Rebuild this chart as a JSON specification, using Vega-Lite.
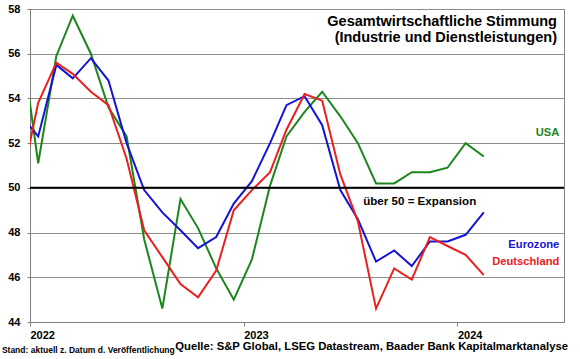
{
  "$schema": "https://vega.github.io/schema/vega-lite/v6.json",
  "width": 534,
  "height": 313,
  "autosize": "none",
  "padding": {"left": 30, "top": 9, "right": 16, "bottom": 37},
  "background": "white",
  "config": {
    "font": "Liberation Sans",
    "view": {"stroke": "#7f7f7f", "strokeWidth": 1}
  },
  "datasets": {
    "one": [{}],
    "pmi": [
      {"d": "2021-12-15", "s": "USA", "v": 57.0},
      {"d": "2022-01-15", "s": "USA", "v": 51.1},
      {"d": "2022-02-15", "s": "USA", "v": 55.9},
      {"d": "2022-03-15", "s": "USA", "v": 57.7},
      {"d": "2022-04-15", "s": "USA", "v": 56.0},
      {"d": "2022-05-15", "s": "USA", "v": 53.6},
      {"d": "2022-06-15", "s": "USA", "v": 52.3},
      {"d": "2022-07-15", "s": "USA", "v": 47.7},
      {"d": "2022-08-15", "s": "USA", "v": 44.6},
      {"d": "2022-09-15", "s": "USA", "v": 49.5},
      {"d": "2022-10-15", "s": "USA", "v": 48.2},
      {"d": "2022-11-15", "s": "USA", "v": 46.4},
      {"d": "2022-12-15", "s": "USA", "v": 45.0},
      {"d": "2023-01-15", "s": "USA", "v": 46.8},
      {"d": "2023-02-15", "s": "USA", "v": 50.1},
      {"d": "2023-03-15", "s": "USA", "v": 52.3},
      {"d": "2023-04-15", "s": "USA", "v": 53.4},
      {"d": "2023-05-15", "s": "USA", "v": 54.3},
      {"d": "2023-06-15", "s": "USA", "v": 53.2},
      {"d": "2023-07-15", "s": "USA", "v": 52.0},
      {"d": "2023-08-15", "s": "USA", "v": 50.2},
      {"d": "2023-09-15", "s": "USA", "v": 50.2},
      {"d": "2023-10-15", "s": "USA", "v": 50.7},
      {"d": "2023-11-15", "s": "USA", "v": 50.7},
      {"d": "2023-12-15", "s": "USA", "v": 50.9},
      {"d": "2024-01-15", "s": "USA", "v": 52.0},
      {"d": "2024-02-15", "s": "USA", "v": 51.4},
      {"d": "2021-12-15", "s": "Eurozone", "v": 53.3},
      {"d": "2022-01-15", "s": "Eurozone", "v": 52.3},
      {"d": "2022-02-15", "s": "Eurozone", "v": 55.5},
      {"d": "2022-03-15", "s": "Eurozone", "v": 54.9},
      {"d": "2022-04-15", "s": "Eurozone", "v": 55.8},
      {"d": "2022-05-15", "s": "Eurozone", "v": 54.8},
      {"d": "2022-06-15", "s": "Eurozone", "v": 52.0},
      {"d": "2022-07-15", "s": "Eurozone", "v": 49.9},
      {"d": "2022-08-15", "s": "Eurozone", "v": 48.9},
      {"d": "2022-09-15", "s": "Eurozone", "v": 48.1},
      {"d": "2022-10-15", "s": "Eurozone", "v": 47.3},
      {"d": "2022-11-15", "s": "Eurozone", "v": 47.8},
      {"d": "2022-12-15", "s": "Eurozone", "v": 49.3},
      {"d": "2023-01-15", "s": "Eurozone", "v": 50.3},
      {"d": "2023-02-15", "s": "Eurozone", "v": 52.0},
      {"d": "2023-03-15", "s": "Eurozone", "v": 53.7},
      {"d": "2023-04-15", "s": "Eurozone", "v": 54.1},
      {"d": "2023-05-15", "s": "Eurozone", "v": 52.8},
      {"d": "2023-06-15", "s": "Eurozone", "v": 49.9},
      {"d": "2023-07-15", "s": "Eurozone", "v": 48.6},
      {"d": "2023-08-15", "s": "Eurozone", "v": 46.7},
      {"d": "2023-09-15", "s": "Eurozone", "v": 47.2},
      {"d": "2023-10-15", "s": "Eurozone", "v": 46.5},
      {"d": "2023-11-15", "s": "Eurozone", "v": 47.6},
      {"d": "2023-12-15", "s": "Eurozone", "v": 47.6},
      {"d": "2024-01-15", "s": "Eurozone", "v": 47.9},
      {"d": "2024-02-15", "s": "Eurozone", "v": 48.9},
      {"d": "2021-12-15", "s": "Deutschland", "v": 49.9},
      {"d": "2022-01-15", "s": "Deutschland", "v": 53.8},
      {"d": "2022-02-15", "s": "Deutschland", "v": 55.6},
      {"d": "2022-03-15", "s": "Deutschland", "v": 55.1},
      {"d": "2022-04-15", "s": "Deutschland", "v": 54.3},
      {"d": "2022-05-15", "s": "Deutschland", "v": 53.7},
      {"d": "2022-06-15", "s": "Deutschland", "v": 51.3},
      {"d": "2022-07-15", "s": "Deutschland", "v": 48.1},
      {"d": "2022-08-15", "s": "Deutschland", "v": 46.9},
      {"d": "2022-09-15", "s": "Deutschland", "v": 45.7},
      {"d": "2022-10-15", "s": "Deutschland", "v": 45.1},
      {"d": "2022-11-15", "s": "Deutschland", "v": 46.3},
      {"d": "2022-12-15", "s": "Deutschland", "v": 49.0},
      {"d": "2023-01-15", "s": "Deutschland", "v": 49.9},
      {"d": "2023-02-15", "s": "Deutschland", "v": 50.7},
      {"d": "2023-03-15", "s": "Deutschland", "v": 52.6},
      {"d": "2023-04-15", "s": "Deutschland", "v": 54.2},
      {"d": "2023-05-15", "s": "Deutschland", "v": 53.9},
      {"d": "2023-06-15", "s": "Deutschland", "v": 50.6},
      {"d": "2023-07-15", "s": "Deutschland", "v": 48.5},
      {"d": "2023-08-15", "s": "Deutschland", "v": 44.6},
      {"d": "2023-09-15", "s": "Deutschland", "v": 46.4},
      {"d": "2023-10-15", "s": "Deutschland", "v": 45.9},
      {"d": "2023-11-15", "s": "Deutschland", "v": 47.8},
      {"d": "2023-12-15", "s": "Deutschland", "v": 47.4},
      {"d": "2024-01-15", "s": "Deutschland", "v": 47.0},
      {"d": "2024-02-15", "s": "Deutschland", "v": 46.1}
    ]
  },
  "layer": [
    {
      "data": {"name": "pmi"},
      "mark": {"type": "line", "clip": true, "strokeWidth": 2},
      "encoding": {
        "x": {
          "field": "d",
          "type": "temporal",
          "scale": {"type": "utc", "domain": [{"year": 2022, "month": 1, "date": 1, "utc": true}, {"year": 2024, "month": 7, "date": 1, "utc": true}]},
          "axis": {
            "title": null,
            "values": [{"year": 2022, "month": 1, "date": 1, "utc": true}, {"year": 2023, "month": 1, "date": 1, "utc": true}, {"year": 2024, "month": 1, "date": 1, "utc": true}],
            "format": "%Y",
            "formatType": "utc",
            "labelAngle": 0,
            "labelFont": "Liberation Sans",
            "labelFontSize": 11,
            "labelFontWeight": "bold",
            "labelColor": "black",
            "labelAlign": "left",
            "labelBaseline": "top",
            "labelDx": -3,
            "labelPadding": 3,
            "labelFlush": false,
            "labelOverlap": false,
            "tickSize": 4,
            "tickColor": "#7f7f7f",
            "domainColor": "#7f7f7f",
            "grid": false
          }
        },
        "y": {
          "field": "v",
          "type": "quantitative",
          "scale": {"domain": [44, 58], "nice": false, "zero": false},
          "axis": {
            "title": null,
            "values": [44, 46, 48, 50, 52, 54, 56, 58],
            "labelFont": "Liberation Sans",
            "labelFontSize": 11,
            "labelFontWeight": "bold",
            "labelColor": "black",
            "labelPadding": 7,
            "tickSize": 3,
            "tickColor": "#7f7f7f",
            "domainColor": "#7f7f7f",
            "grid": true,
            "gridColor": "#8c8c8c",
            "gridWidth": 1.2
          }
        },
        "color": {
          "field": "s",
          "type": "nominal",
          "scale": {"domain": ["USA", "Eurozone", "Deutschland"], "range": ["#1c861c", "#1414d2", "#e8201e"]},
          "legend": null
        },
        "detail": {"field": "s"}
      }
    },
    {
      "data": {"name": "one"},
      "mark": {"type": "rule", "color": "black", "strokeWidth": 2},
      "encoding": {"y": {"datum": 50, "type": "quantitative"}}
    },
    {
      "data": {"name": "one"},
      "mark": {"type": "text", "align": "right", "baseline": "middle", "fontWeight": "bold", "fontSize": 14.5, "color": "black", "font": "Liberation Sans"},
      "encoding": {"x": {"datum": {"year": 2024, "month": 6, "date": 19, "utc": true}, "type": "temporal"}, "y": {"datum": 57.42, "type": "quantitative"}, "text": {"value": "Gesamtwirtschaftliche Stimmung"}}
    },
    {
      "data": {"name": "one"},
      "mark": {"type": "text", "align": "right", "baseline": "middle", "fontWeight": "bold", "fontSize": 14.5, "color": "black", "font": "Liberation Sans"},
      "encoding": {"x": {"datum": {"year": 2024, "month": 6, "date": 19, "utc": true}, "type": "temporal"}, "y": {"datum": 56.7, "type": "quantitative"}, "text": {"value": "(Industrie und Dienstleistungen)"}}
    },
    {
      "data": {"name": "one"},
      "mark": {"type": "text", "align": "right", "baseline": "middle", "fontWeight": "bold", "fontSize": 11.2, "color": "#1c861c", "font": "Liberation Sans"},
      "encoding": {"x": {"datum": {"year": 2024, "month": 6, "date": 23, "utc": true}, "type": "temporal"}, "y": {"datum": 52.45, "type": "quantitative"}, "text": {"value": "USA"}}
    },
    {
      "data": {"name": "one"},
      "mark": {"type": "text", "align": "right", "baseline": "middle", "fontWeight": "bold", "fontSize": 11.2, "color": "#1414d2", "font": "Liberation Sans"},
      "encoding": {"x": {"datum": {"year": 2024, "month": 6, "date": 23, "utc": true}, "type": "temporal"}, "y": {"datum": 47.45, "type": "quantitative"}, "text": {"value": "Eurozone"}}
    },
    {
      "data": {"name": "one"},
      "mark": {"type": "text", "align": "right", "baseline": "middle", "fontWeight": "bold", "fontSize": 11.2, "color": "#e8201e", "font": "Liberation Sans"},
      "encoding": {"x": {"datum": {"year": 2024, "month": 6, "date": 23, "utc": true}, "type": "temporal"}, "y": {"datum": 46.7, "type": "quantitative"}, "text": {"value": "Deutschland"}}
    },
    {
      "data": {"name": "one"},
      "mark": {"type": "text", "align": "left", "baseline": "middle", "fontWeight": "bold", "fontSize": 11.6, "color": "black", "font": "Liberation Sans"},
      "encoding": {"x": {"datum": {"year": 2023, "month": 7, "date": 24, "utc": true}, "type": "temporal"}, "y": {"datum": 49.37, "type": "quantitative"}, "text": {"value": "über 50 = Expansion"}}
    },
    {
      "data": {"name": "one"},
      "mark": {"type": "text", "align": "left", "baseline": "middle", "fontWeight": "bold", "fontSize": 11.3, "color": "black", "font": "Liberation Sans"},
      "encoding": {"x": {"datum": {"year": 2022, "month": 9, "date": 6, "utc": true}, "type": "temporal"}, "y": {"datum": 42.9, "type": "quantitative"}, "text": {"value": "Quelle: S&P Global, LSEG Datastream, Baader Bank Kapitalmarktanalyse"}}
    },
    {
      "data": {"name": "one"},
      "mark": {"type": "text", "align": "left", "baseline": "middle", "fontWeight": "bold", "fontSize": 8.5, "color": "black", "font": "Liberation Sans"},
      "encoding": {"x": {"datum": {"year": 2021, "month": 11, "date": 14, "utc": true}, "type": "temporal"}, "y": {"datum": 42.73, "type": "quantitative"}, "text": {"value": "Stand: aktuell z. Datum d. Veröffentlichung"}}
    }
  ]
}
